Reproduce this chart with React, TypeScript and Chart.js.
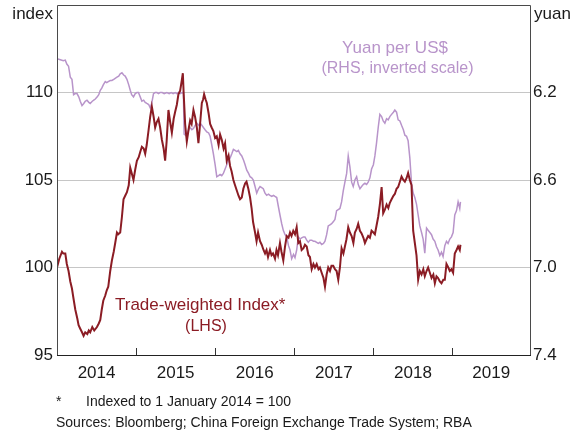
import React, { useEffect, useRef } from 'react';
import { Chart, registerables } from 'chart.js';

Chart.register(...registerables);

// Trade-weighted index (LHS), dates as decimal years
const twiDates = [
  2014.000, 2014.029, 2014.063, 2014.080, 2014.105, 2014.124, 2014.146, 2014.168, 2014.189, 2014.206,
  2014.231, 2014.256, 2014.273, 2014.294, 2014.316, 2014.336, 2014.357, 2014.383, 2014.402, 2014.420,
  2014.446, 2014.471, 2014.505, 2014.528, 2014.547, 2014.566, 2014.585, 2014.610, 2014.629, 2014.648,
  2014.673, 2014.694, 2014.717, 2014.736, 2014.758, 2014.774, 2014.799, 2014.821, 2014.841, 2014.862,
  2014.884, 2014.907, 2014.926, 2014.944, 2014.967, 2014.989,
  2015.010, 2015.033, 2015.052, 2015.073, 2015.096, 2015.115, 2015.134, 2015.159, 2015.178, 2015.199,
  2015.222, 2015.241, 2015.260, 2015.283, 2015.304, 2015.326, 2015.348, 2015.367, 2015.386, 2015.409,
  2015.431, 2015.452, 2015.475, 2015.494, 2015.515, 2015.535, 2015.557, 2015.578, 2015.591, 2015.601,
  2015.620, 2015.641, 2015.664, 2015.683, 2015.702, 2015.725, 2015.746, 2015.768, 2015.788, 2015.809,
  2015.831, 2015.847, 2015.860, 2015.879, 2015.894, 2015.917, 2015.936, 2015.955, 2015.977, 2015.999,
  2016.020, 2016.043, 2016.062, 2016.083, 2016.106, 2016.125, 2016.146, 2016.169, 2016.188, 2016.207,
  2016.230, 2016.251, 2016.273, 2016.295, 2016.314, 2016.336, 2016.356, 2016.378, 2016.396, 2016.419,
  2016.441, 2016.460, 2016.479, 2016.504, 2016.523, 2016.542, 2016.567, 2016.588, 2016.611, 2016.630,
  2016.649, 2016.668, 2016.693, 2016.712, 2016.731, 2016.756, 2016.775, 2016.794, 2016.819, 2016.838,
  2016.861, 2016.883, 2016.904, 2016.927, 2016.946, 2016.965, 2016.987,
  2017.009, 2017.030, 2017.051, 2017.072, 2017.093, 2017.116, 2017.135, 2017.157, 2017.179, 2017.198,
  2017.220, 2017.242, 2017.261, 2017.283, 2017.306, 2017.324, 2017.346, 2017.369, 2017.388, 2017.409,
  2017.429, 2017.451, 2017.470, 2017.492, 2017.514, 2017.535, 2017.556, 2017.577, 2017.598, 2017.621,
  2017.640, 2017.659, 2017.682, 2017.703, 2017.725, 2017.747, 2017.766, 2017.788, 2017.808, 2017.830,
  2017.851, 2017.874, 2017.893, 2017.912, 2017.934, 2017.956, 2017.977,
  2018.000, 2018.019, 2018.040, 2018.061, 2018.082, 2018.104, 2018.124, 2018.145, 2018.167, 2018.189,
  2018.208, 2018.230, 2018.253, 2018.271, 2018.293, 2018.313, 2018.335, 2018.356, 2018.379, 2018.398,
  2018.419, 2018.439, 2018.461, 2018.482, 2018.503, 2018.524, 2018.545, 2018.566, 2018.587, 2018.609,
  2018.631, 2018.650, 2018.672, 2018.692, 2018.714, 2018.735, 2018.758, 2018.777, 2018.798, 2018.818,
  2018.840, 2018.861, 2018.884, 2018.903, 2018.924, 2018.947, 2018.966, 2018.987, 2019.008, 2019.029,
  2019.051, 2019.071, 2019.092, 2019.101,
];
const twiValues = [
  100.0, 100.5, 100.9, 100.8, 100.8, 100.2, 99.8, 99.2, 98.8, 98.3,
  97.6, 97.1, 96.7, 96.5, 96.3, 96.1, 96.3, 96.2, 96.4, 96.3,
  96.6, 96.4, 96.6, 96.8, 97.0, 97.6, 98.1, 98.4, 98.7, 98.9,
  99.8, 100.4, 100.9, 101.4, 102.0, 101.9, 102.0, 102.9, 103.9, 104.1,
  104.3, 104.7, 105.7, 105.4, 105.0, 105.6,
  106.1, 106.3, 106.6, 106.9, 106.8, 106.5, 107.0, 107.9, 108.6, 109.2,
  108.6, 108.0, 108.3, 108.5, 108.0, 107.3, 106.8, 106.1, 107.2, 109.0,
  108.3, 107.7, 108.5, 108.9, 109.3, 109.9, 110.1, 110.7, 111.1, 110.0,
  108.2, 107.2, 107.9, 108.4, 108.2, 109.0, 108.6, 108.0, 107.1, 108.2,
  109.4, 109.6, 109.9, 109.6, 109.4, 108.8, 108.2, 108.0, 107.8, 107.4,
  107.5, 107.0, 107.6, 107.3, 106.8, 107.1, 106.1, 106.4, 105.8, 105.5,
  105.0, 104.7, 104.4, 104.1, 103.9, 104.0, 104.5, 104.8, 104.9, 104.5,
  104.0, 103.4, 102.6, 102.0, 101.5, 102.0, 101.5, 101.3, 101.0, 100.8,
  101.0, 100.6, 101.0, 100.7, 100.8, 100.5, 101.0, 100.7, 101.4, 100.9,
  100.4, 101.2, 101.8, 101.7, 102.0, 101.8, 102.1,
  101.9, 102.3, 101.4, 101.5, 101.0, 101.1, 101.3, 101.2, 100.7, 100.6,
  99.9, 100.2, 100.0, 100.2, 99.9, 100.0, 99.7, 99.4, 98.9, 99.6,
  100.0, 99.8, 100.1, 100.1, 99.9, 99.8, 99.3, 100.0, 101.1, 100.8,
  101.2, 101.6, 102.3, 102.0, 101.8, 101.4, 102.0, 102.2, 102.5, 102.1,
  101.95, 101.7, 101.4, 101.6, 101.8, 101.7, 102.1,
  102.0, 101.9, 102.4, 102.9, 103.6, 104.6, 103.1, 103.3, 103.6, 103.4,
  103.7, 103.9, 104.1, 104.2, 104.5, 104.6, 104.9, 105.2, 105.0, 104.9,
  105.1, 105.4, 105.0, 104.7, 102.1, 101.4, 100.7, 99.3, 99.8, 99.6,
  99.9, 99.5, 99.8, 100.0, 99.7, 99.4, 99.6, 99.1, 99.5, 99.4,
  99.2, 99.1, 99.3, 99.3, 100.2, 100.0, 99.8, 99.9, 99.7, 100.8,
  101.0, 101.2, 101.0, 101.3,
];

// Yuan per US$ (RHS, inverted), dates as decimal years
const yuanDates = [
  2014.000, 2014.042, 2014.080, 2014.105, 2014.124, 2014.146, 2014.168, 2014.189, 2014.210, 2014.231,
  2014.253, 2014.275, 2014.294, 2014.316, 2014.338, 2014.357, 2014.379, 2014.402, 2014.420, 2014.446,
  2014.465, 2014.484, 2014.509, 2014.528, 2014.547, 2014.566, 2014.585, 2014.610, 2014.629, 2014.648,
  2014.673, 2014.694, 2014.717, 2014.736, 2014.758, 2014.780, 2014.799, 2014.821, 2014.843, 2014.862,
  2014.884, 2014.907, 2014.926, 2014.944, 2014.967, 2014.989,
  2015.010, 2015.030, 2015.052, 2015.073, 2015.096, 2015.115, 2015.136, 2015.159, 2015.178, 2015.197,
  2015.220, 2015.241, 2015.263, 2015.285, 2015.304, 2015.330, 2015.355, 2015.389, 2015.418, 2015.443,
  2015.468, 2015.494, 2015.515, 2015.538, 2015.557, 2015.582, 2015.598, 2015.607, 2015.641, 2015.664,
  2015.683, 2015.705, 2015.725, 2015.746, 2015.768, 2015.790, 2015.809, 2015.831, 2015.851, 2015.872,
  2015.894, 2015.917, 2015.936, 2015.957, 2015.977, 2015.999,
  2016.020, 2016.043, 2016.062, 2016.083, 2016.103, 2016.125, 2016.146, 2016.167, 2016.188, 2016.210,
  2016.230, 2016.251, 2016.273, 2016.293, 2016.314, 2016.336, 2016.359, 2016.378, 2016.399, 2016.422,
  2016.441, 2016.462, 2016.482, 2016.504, 2016.525, 2016.548, 2016.567, 2016.588, 2016.608, 2016.630,
  2016.651, 2016.674, 2016.693, 2016.715, 2016.737, 2016.756, 2016.778, 2016.798, 2016.819, 2016.841,
  2016.861, 2016.883, 2016.904, 2016.927, 2016.946, 2016.967, 2016.990,
  2017.009, 2017.030, 2017.051, 2017.072, 2017.093, 2017.116, 2017.135, 2017.157, 2017.177, 2017.198,
  2017.220, 2017.242, 2017.261, 2017.283, 2017.303, 2017.324, 2017.346, 2017.369, 2017.388, 2017.409,
  2017.429, 2017.451, 2017.472, 2017.495, 2017.514, 2017.535, 2017.556, 2017.577, 2017.598, 2017.619,
  2017.640, 2017.662, 2017.682, 2017.703, 2017.725, 2017.745, 2017.766, 2017.788, 2017.808, 2017.830,
  2017.851, 2017.874, 2017.893, 2017.914, 2017.934, 2017.956, 2017.977,
  2018.000, 2018.019, 2018.040, 2018.061, 2018.082, 2018.104, 2018.124, 2018.145, 2018.167, 2018.187,
  2018.208, 2018.230, 2018.253, 2018.271, 2018.293, 2018.313, 2018.335, 2018.356, 2018.379, 2018.398,
  2018.419, 2018.439, 2018.461, 2018.482, 2018.503, 2018.524, 2018.545, 2018.566, 2018.587, 2018.609,
  2018.629, 2018.650, 2018.672, 2018.692, 2018.714, 2018.735, 2018.755, 2018.777, 2018.798, 2018.818,
  2018.840, 2018.861, 2018.881, 2018.903, 2018.924, 2018.944, 2018.966, 2018.987, 2019.008, 2019.029,
  2019.051, 2019.071, 2019.092, 2019.101,
];
const yuanValues = [
  6.045, 6.05, 6.055, 6.052, 6.07, 6.08, 6.13, 6.14, 6.21, 6.205,
  6.205, 6.22, 6.24, 6.26, 6.25, 6.24, 6.235, 6.245, 6.25, 6.24,
  6.235, 6.23, 6.22, 6.21, 6.19, 6.18, 6.165, 6.15, 6.155, 6.15,
  6.145, 6.145, 6.14, 6.135, 6.13, 6.125, 6.115, 6.11, 6.12, 6.125,
  6.14, 6.165, 6.19, 6.21, 6.22, 6.205,
  6.2, 6.2, 6.22, 6.24, 6.235, 6.245, 6.25, 6.255, 6.27, 6.25,
  6.205, 6.2, 6.2, 6.205, 6.2, 6.2, 6.205, 6.2, 6.205, 6.2,
  6.205, 6.2, 6.205, 6.2, 6.205, 6.2, 6.205, 6.39, 6.4, 6.37,
  6.36, 6.37, 6.365, 6.35, 6.34, 6.35, 6.34, 6.35, 6.36, 6.37,
  6.38, 6.385, 6.40, 6.44, 6.48, 6.53,
  6.585, 6.58, 6.575, 6.58, 6.57, 6.55, 6.53, 6.51, 6.50, 6.48,
  6.46, 6.465, 6.47, 6.465, 6.48, 6.49, 6.51, 6.53, 6.555, 6.57,
  6.585, 6.59, 6.6, 6.63, 6.66, 6.64, 6.63, 6.635, 6.64, 6.66,
  6.67, 6.665, 6.67, 6.675, 6.67, 6.675, 6.68, 6.72, 6.76, 6.80,
  6.83, 6.85, 6.86, 6.9, 6.92, 6.96, 6.94,
  6.955, 6.92, 6.86, 6.87, 6.865, 6.86, 6.86, 6.875, 6.885, 6.875,
  6.875, 6.88, 6.88, 6.885, 6.89, 6.885, 6.895, 6.89, 6.88, 6.85,
  6.81, 6.805, 6.80, 6.79, 6.78, 6.74, 6.735, 6.73, 6.70, 6.65,
  6.61, 6.57, 6.49, 6.54, 6.61, 6.63, 6.60, 6.585, 6.62, 6.64,
  6.63, 6.62, 6.615, 6.62, 6.61, 6.59, 6.55,
  6.53, 6.49, 6.43, 6.36, 6.30, 6.31, 6.33, 6.34, 6.32, 6.325,
  6.31, 6.30, 6.29, 6.28, 6.29, 6.325, 6.33, 6.35, 6.37, 6.395,
  6.40, 6.42, 6.50, 6.615, 6.66, 6.68, 6.71, 6.76, 6.81, 6.84,
  6.87, 6.935, 6.82, 6.83, 6.84, 6.85, 6.87, 6.88, 6.905, 6.92,
  6.945, 6.93, 6.95, 6.90, 6.88, 6.89, 6.87, 6.86, 6.84, 6.76,
  6.74, 6.70, 6.73, 6.70,
];

const yearLabels = ['2014', '2015', '2016', '2017', '2018', '2019'];
const leftTicks = [95, 100, 105, 110];
const rightTicks = [6.2, 6.6, 7.0, 7.4];

const FONT = '"Liberation Sans", Arial, Helvetica, sans-serif';
const RED = '#8b1c24';
const PURPLE = '#b894ca';

export default function App() {
  const ref = useRef<HTMLCanvasElement | null>(null);

  useEffect(() => {
    if (!ref.current) return;

    const overlay = {
      id: 'overlay',
      afterDraw(chart: any) {
        const ctx = chart.ctx as CanvasRenderingContext2D;
        const { left, right, top, bottom } = chart.chartArea;
        const xs = chart.scales.x;
        ctx.save();
        // frame
        ctx.strokeStyle = '#4a4a4a';
        ctx.lineWidth = 1;
        ctx.beginPath();
        ctx.moveTo(Math.round(left) + 0.5, Math.round(bottom) + 0.5);
        ctx.lineTo(Math.round(left) + 0.5, Math.round(top) + 0.5);
        ctx.lineTo(Math.round(right) + 0.5, Math.round(top) + 0.5);
        ctx.lineTo(Math.round(right) + 0.5, Math.round(bottom) + 0.5);
        ctx.stroke();
        ctx.strokeStyle = '#222';
        ctx.beginPath();
        ctx.moveTo(Math.round(left), Math.round(bottom) + 0.5);
        ctx.lineTo(Math.round(right) + 1, Math.round(bottom) + 0.5);
        ctx.stroke();
        // year tick marks (inside)
        ctx.strokeStyle = '#333';
        for (let i = 1; i < yearLabels.length; i++) {
          const px = Math.round(xs.getPixelForValue(Number(yearLabels[i]))) + 0.5;
          ctx.beginPath();
          ctx.moveTo(px, bottom);
          ctx.lineTo(px, bottom - 7);
          ctx.stroke();
        }
        // year labels centred in each year
        ctx.fillStyle = '#1a1a1a';
        ctx.font = `17px ${FONT}`;
        ctx.textAlign = 'center';
        ctx.textBaseline = 'alphabetic';
        for (let i = 0; i < yearLabels.length; i++) {
          const y0 = Number(yearLabels[i]);
          const y1 = Math.min(y0 + 1, xs.max);
          const px = xs.getPixelForValue((y0 + y1) / 2);
          ctx.fillText(yearLabels[i], px, 378);
        }
        // axis units
        ctx.textAlign = 'right';
        ctx.fillText('index', 53, 19);
        ctx.textAlign = 'left';
        ctx.fillText('yuan', 534, 19);
        // series labels
        ctx.fillStyle = PURPLE;
        ctx.textAlign = 'center';
        ctx.font = `17px ${FONT}`;
        ctx.fillText('Yuan per US$', 395, 52.5);
        ctx.font = `16px ${FONT}`;
        ctx.fillText('(RHS, inverted scale)', 397.5, 73);
        ctx.fillStyle = RED;
        ctx.textAlign = 'left';
        ctx.font = `17px ${FONT}`;
        ctx.fillText('Trade-weighted Index*', 115, 309.5);
        ctx.textAlign = 'center';
        ctx.font = `16px ${FONT}`;
        ctx.fillText('(LHS)', 206, 330.5);
        // footnotes
        ctx.fillStyle = '#1a1a1a';
        ctx.textAlign = 'left';
        ctx.font = `14px ${FONT}`;
        ctx.fillText('*', 56, 406);
        ctx.fillText('Indexed to 1 January 2014 = 100', 86, 406);
        ctx.fillText('Sources: Bloomberg; China Foreign Exchange Trade System; RBA', 56, 427);
        ctx.restore();
      },
    };

    const noPad = (s: any) => {
      s.paddingTop = 0;
      s.paddingBottom = 0;
    };

    const chart = new Chart(ref.current, {
      type: 'line',
      data: {
        datasets: [
          {
            label: 'Trade-weighted Index',
            data: twiDates.map((d, i) => ({ x: d, y: twiValues[i] })),
            yAxisID: 'y',
            borderColor: RED,
            borderWidth: 2,
            pointRadius: 0,
            tension: 0,
            fill: false,
          },
          {
            label: 'Yuan per US$',
            data: yuanDates.map((d, i) => ({ x: d, y: yuanValues[i] })),
            yAxisID: 'y1',
            borderColor: PURPLE,
            borderWidth: 1.5,
            pointRadius: 0,
            tension: 0,
            fill: false,
          },
        ],
      },
      options: {
        responsive: false,
        animation: false,
        devicePixelRatio: 1,
        layout: { padding: { top: 5, left: 0, right: 0, bottom: 0 } },
        plugins: { legend: { display: false }, tooltip: { enabled: false } },
        scales: {
          x: {
            type: 'linear',
            min: 2014,
            max: 2019.98,
            grid: { display: false },
            border: { display: false },
            ticks: { display: false },
            afterFit: (s: any) => { s.height = 77; s.paddingLeft = 0; s.paddingRight = 0; },
          },
          y: {
            position: 'left',
            min: 95,
            max: 115,
            afterBuildTicks: (s: any) => { s.ticks = leftTicks.map((v) => ({ value: v })); },
            afterFit: (s: any) => { s.width = 57; noPad(s); },
            grid: { color: '#c6c6c6', lineWidth: 1, drawTicks: false },
            border: { display: false },
            ticks: { font: { family: FONT, size: 17 }, color: '#1a1a1a', padding: 4 },
          },
          y1: {
            position: 'right',
            min: 5.8,
            max: 7.4,
            reverse: true,
            afterBuildTicks: (s: any) => { s.ticks = rightTicks.map((v) => ({ value: v })); },
            afterFit: (s: any) => { s.width = 53; noPad(s); },
            grid: { display: false, drawTicks: false },
            border: { display: false },
            ticks: {
              font: { family: FONT, size: 17 },
              color: '#1a1a1a',
              padding: 3,
              callback: (v: any) => Number(v).toFixed(1),
            },
          },
        },
      },
      plugins: [overlay],
    } as any);

    return () => chart.destroy();
  }, []);

  return (
    <div style={{ position: 'absolute', left: 0, top: 0, width: 583, height: 432 }}>
      <canvas ref={ref} width={583} height={432} style={{ display: 'block' }} />
    </div>
  );
}
